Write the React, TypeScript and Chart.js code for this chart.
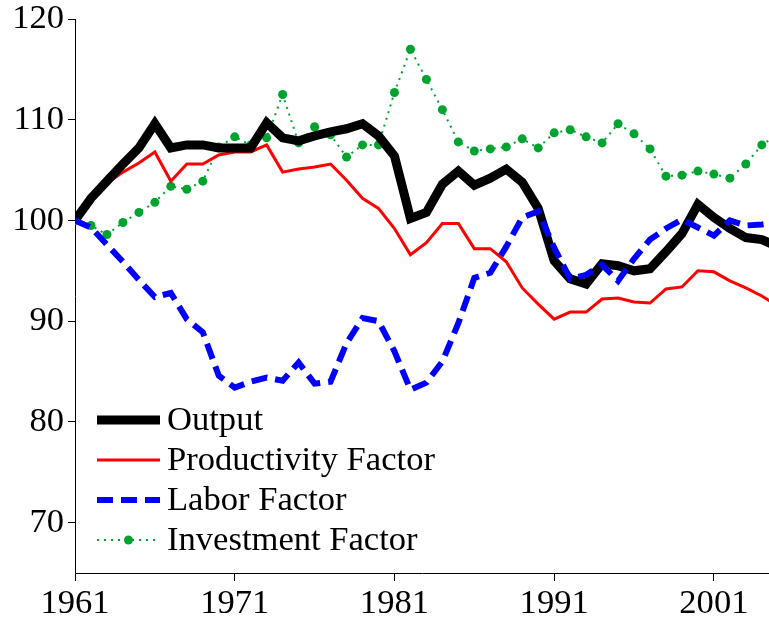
import React, { useEffect, useRef } from "react";
import { Chart, registerables } from "chart.js";

Chart.register(...registerables);

const years = [
  1961, 1962, 1963, 1964, 1965, 1966, 1967, 1968, 1969, 1970,
  1971, 1972, 1973, 1974, 1975, 1976, 1977, 1978, 1979, 1980,
  1981, 1982, 1983, 1984, 1985, 1986, 1987, 1988, 1989, 1990,
  1991, 1992, 1993, 1994, 1995, 1996, 1997, 1998, 1999, 2000,
  2001, 2002, 2003, 2004, 2005,
];

const output = [
  100.0, 102.2, 103.9, 105.6, 107.2, 109.6, 107.2, 107.5, 107.5, 107.2,
  107.2, 107.2, 109.7, 108.2, 107.9, 108.4, 108.8, 109.1, 109.6, 108.4,
  106.4, 100.2, 100.8, 103.6, 104.9, 103.5, 104.2, 105.1, 103.8, 101.2,
  96.0, 94.2, 93.7, 95.7, 95.5, 95.0, 95.2, 96.9, 98.7, 101.6,
  100.3, 99.2, 98.3, 98.1, 97.4,
];

const productivity = [
  100.0, 102.0, 103.7, 104.8, 105.7, 106.8, 103.9, 105.6, 105.6, 106.5,
  106.8, 106.8, 107.5, 104.8, 105.1, 105.3, 105.6, 104.0, 102.2, 101.2,
  99.2, 96.6, 97.8, 99.7, 99.7, 97.2, 97.2, 95.9, 93.3, 91.7,
  90.2, 90.9, 90.9, 92.2, 92.3, 91.9, 91.8, 93.2, 93.4, 95.0,
  94.9, 94.0, 93.3, 92.5, 91.5,
];

const labor = [
  100.0, 99.3, 97.6, 95.9, 94.1, 92.4, 92.8, 90.2, 88.9, 84.6,
  83.4, 84.0, 84.4, 84.1, 85.9, 83.8, 84.0, 87.8, 90.3, 90.0,
  87.0, 83.2, 83.9, 86.0, 89.8, 94.3, 94.8, 97.4, 100.3, 100.9,
  97.3, 94.2, 94.6, 95.6, 94.0, 96.2, 98.1, 99.2, 100.1, 99.3,
  98.5, 100.0, 99.5, 99.6, 99.8,
];

const investment = [
  100.0, 99.5, 98.6, 99.8, 100.8, 101.8, 103.4, 103.1, 103.9, 107.3,
  108.3, 107.5, 108.2, 112.5, 107.7, 109.3, 108.5, 106.3, 107.5, 107.5,
  112.7, 117.0, 114.0, 111.0, 107.8, 106.9, 107.1, 107.3, 108.1, 107.2,
  108.7, 109.0, 108.3, 107.7, 109.6, 108.6, 107.1, 104.4, 104.5, 104.9,
  104.6, 104.2, 105.6, 107.5, 108.5,
];

const xTicks = [1961, 1971, 1981, 1991, 2001];
const yTicks = [70, 80, 90, 100, 110, 120];

const seriesNames = ["Output", "Productivity Factor", "Labor Factor", "Investment Factor"];

const FONT = "'Liberation Serif', 'Times New Roman', serif";
const FONT_SIZE = 34.6;
const GREEN = "rgb(0,163,48)";

const toXY = (vals: number[]) => vals.map((v, i) => ({ x: years[i], y: v }));

const legendPlugin = {
  id: "insideLegend",
  afterDraw(chart: any) {
    const ctx = chart.ctx;
    const x0 = 97;
    const x1 = 160;
    const tx = 167;
    const rows = [420, 460, 500, 540];
    chart.data.datasets.forEach((ds: any, i: number) => {
      const y = rows[i];
      ctx.save();
      ctx.strokeStyle = ds.borderColor;
      ctx.lineWidth = ds.borderWidth;
      ctx.setLineDash(ds.borderDash || []);
      ctx.lineCap = "butt";
      ctx.beginPath();
      ctx.moveTo(x0, y);
      ctx.lineTo(x1, y);
      ctx.stroke();
      if (ds.pointRadius > 0) {
        ctx.setLineDash([]);
        ctx.fillStyle = ds.pointBackgroundColor;
        ctx.beginPath();
        ctx.arc((x0 + x1) / 2, y, ds.pointRadius, 0, Math.PI * 2);
        ctx.fill();
      }
      ctx.fillStyle = "#000";
      ctx.font = `${FONT_SIZE}px ${FONT}`;
      ctx.textBaseline = "middle";
      ctx.textAlign = "left";
      ctx.fillText(ds.label, tx, y + 1);
      ctx.restore();
    });
  },
};

export default function App() {
  const ref = useRef<HTMLCanvasElement | null>(null);

  useEffect(() => {
    if (!ref.current) return;
    const chart = new Chart(ref.current, {
      type: "line",
      data: {
        datasets: [
          {
            label: seriesNames[0],
            data: toXY(output),
            borderColor: "#000000",
            borderWidth: 9,
            pointRadius: 0,
            borderJoinStyle: "miter",
            tension: 0,
            order: 1,
          },
          {
            label: seriesNames[1],
            data: toXY(productivity),
            borderColor: "#ff0000",
            borderWidth: 3,
            pointRadius: 0,
            borderJoinStyle: "miter",
            tension: 0,
            order: 2,
          },
          {
            label: seriesNames[2],
            data: toXY(labor),
            borderColor: "#0000ff",
            borderWidth: 6,
            borderDash: [16, 8],
            pointRadius: 0,
            tension: 0,
            order: 0,
          },
          {
            label: seriesNames[3],
            data: toXY(investment),
            borderColor: GREEN,
            borderWidth: 2,
            borderDash: [2, 5],
            pointRadius: 4.5,
            pointBackgroundColor: GREEN,
            pointBorderColor: GREEN,
            pointBorderWidth: 0,
            tension: 0,
            order: 3,
          },
        ],
      },
      options: {
        animation: false,
        responsive: false,
        maintainAspectRatio: false,
        devicePixelRatio: 1,
        layout: { autoPadding: false, padding: { top: 19, right: 0, left: 0, bottom: 0 } },
        plugins: {
          legend: { display: false },
          tooltip: { enabled: false },
        },
        scales: {
          x: {
            type: "linear",
            min: 1961,
            max: 2004.45,
            afterBuildTicks: (scale: any) => {
              scale.ticks = xTicks.map((v) => ({ value: v }));
            },
            afterFit: (scale: any) => {
              scale.height = 55;
              scale.paddingLeft = 0;
              scale.paddingRight = 0;
            },
            ticks: {
              autoSkip: false,
              maxRotation: 0,
              color: "#000",
              padding: 6,
              font: { family: FONT, size: FONT_SIZE, lineHeight: 1.0 },
              callback: (v: any) => String(v),
            },
            grid: {
              display: true,
              drawOnChartArea: false,
              drawTicks: true,
              tickLength: 8,
              color: "#000",
            },
            border: { display: true, color: "#000", width: 1 },
          },
          y: {
            type: "linear",
            min: 65,
            max: 120,
            afterBuildTicks: (scale: any) => {
              scale.ticks = yTicks.map((v) => ({ value: v }));
            },
            afterFit: (scale: any) => {
              scale.width = 75;
              scale.paddingTop = 0;
              scale.paddingBottom = 0;
            },
            ticks: {
              color: "#000",
              padding: 4,
              font: { family: FONT, size: FONT_SIZE, lineHeight: 1.0 },
              callback: (v: any) => String(v),
            },
            grid: {
              display: true,
              drawOnChartArea: false,
              drawTicks: true,
              tickLength: 7,
              color: "#000",
            },
            border: { display: true, color: "#000", width: 1 },
          },
        },
      },
      plugins: [legendPlugin],
    } as any);
    return () => chart.destroy();
  }, []);

  return (
    <div style={{ position: "fixed", left: 0, top: 0, width: 769, height: 628, background: "#fff" }}>
      <canvas ref={ref} width={769} height={628} style={{ display: "block", width: 769, height: 628 }} />
    </div>
  );
}
